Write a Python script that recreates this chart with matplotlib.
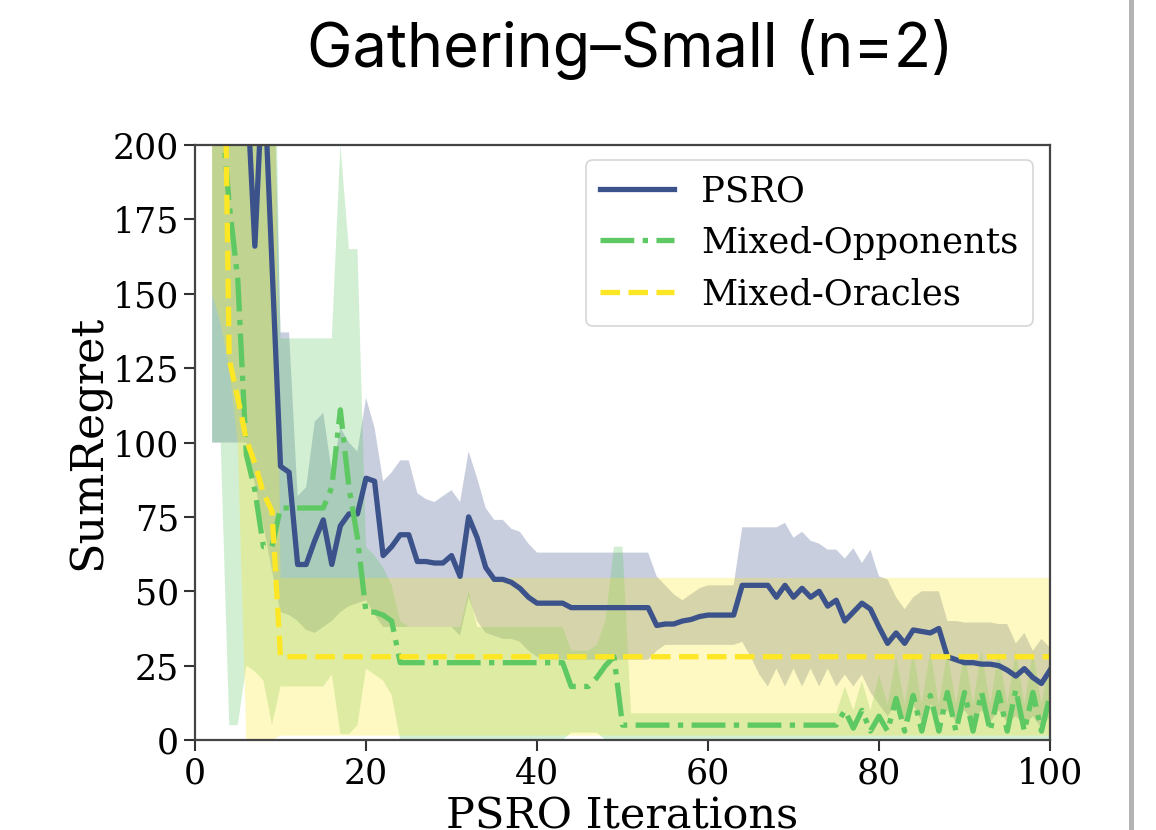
import matplotlib
matplotlib.use("Agg")
import matplotlib.pyplot as plt
from matplotlib.lines import Line2D

# PSRO iterations (x axis)
iterations = list(range(2, 101))

# PSRO: mean SumRegret and shaded band
psro_mean = [420, 380, 330, 270, 223, 166, 228, 160, 92, 90,
             59, 59, 67, 74, 59, 72, 76, 76, 88, 87,
             62, 65, 69, 69, 60, 60, 59.5, 59.5, 62, 55,
             75, 68, 58, 54, 54, 53, 51, 48, 46, 46,
             46, 46, 44.5, 44.5, 44.5, 44.5, 44.5, 44.5, 44.5, 44.5,
             44.5, 44.5, 38.5, 39, 39, 40, 40.5, 41.5, 42, 42,
             42, 42, 52, 52, 52, 52, 48, 52, 48, 51,
             48, 50, 45, 47, 40, 43, 46, 44, 38, 32.5,
             36, 32.5, 37, 36.5, 36, 37.5, 28, 27, 26, 26,
             25.5, 25.5, 25, 23.5, 21.5, 24, 21, 19, 23.5]
psro_upper = [300, 300, 300, 300, 300, 300, 300, 250, 137, 137,
              82, 85, 107, 110, 90, 105, 100, 97, 115, 105,
              87, 90, 94, 94, 83, 81, 80, 82, 84, 80,
              97, 88, 78, 74, 74, 71, 70, 66, 63, 63,
              63, 63, 63, 63, 63, 63, 63, 63, 63, 63,
              63, 63, 55, 52, 49, 47, 49, 51, 52, 52,
              52, 52, 71.5, 71.5, 71.5, 71.5, 71.5, 73, 68, 70,
              67, 66, 64, 64, 61, 64.5, 59.5, 64, 55, 54,
              48, 44, 48, 50, 50, 50, 40, 40, 39.5, 39.5,
              39.5, 39.5, 39, 39, 32.5, 36, 30, 34, 31]
psro_lower = [100, 100, 100, 100, 100, 86, 72, 57, 43, 42,
              40, 37, 36, 38, 40, 43, 45, 46, 47, 42,
              38, 38, 38, 38, 38, 38, 38, 38, 38, 35,
              48, 40, 36, 35, 34, 34, 33, 30, 28, 27,
              27, 27, 27, 27, 27, 27, 27, 27, 27, 27,
              27, 27, 30, 32, 32, 32, 32, 32, 32, 32,
              32, 32, 33, 28, 22, 18, 24, 18, 24, 18,
              24, 18, 24, 18, 22, 18, 22, 16, 12, 8,
              12, 6, 12, 6, 12, 8, 10, 6, 10, 6,
              10, 6, 10, 6, 8, 5, 8, 4, 8]

# Mixed-Opponents
mo_mean = [260, 215, 180, 155, 96, 84, 65, 65, 78, 78,
           78, 78, 78, 78, 85, 111, 85, 68, 43, 43,
           42, 40, 26, 26, 26, 26, 26, 26, 26, 26,
           26, 26, 26, 26, 26, 26, 26, 26, 26, 26,
           26, 26, 18, 18, 18, 21, 25, 28, 5, 5,
           5, 5, 5, 5, 5, 5, 5, 5, 5, 5,
           5, 5, 5, 5, 5, 5, 5, 5, 5, 5,
           5, 5, 5, 5, 10, 4, 10, 3, 8, 3,
           14, 3, 15, 3, 15, 3, 16, 3, 16, 3,
           16, 3, 16, 3, 17, 3, 16, 3, 15]
mo_upper = [300, 300, 300, 300, 300, 300, 300, 300, 135, 135,
            135, 135, 135, 135, 135, 200, 165, 165, 65, 62,
            58, 52, 40, 38, 38, 38, 38, 38, 38, 38,
            50, 38, 38, 38, 38, 38, 38, 38, 38, 38,
            38, 38, 30, 30, 30, 32, 40, 65, 65, 9,
            9, 9, 9, 9, 9, 9, 9, 9, 9, 9,
            9, 9, 9, 9, 9, 9, 9, 9, 9, 9,
            9, 9, 9, 9, 18, 10, 20, 10, 22, 12,
            28, 12, 30, 12, 30, 12, 30, 12, 30, 12,
            30, 12, 30, 12, 30, 12, 30, 12, 28]
mo_lower = [100, 100, 5, 5, 25, 23, 20, 5, 18, 18,
            18, 18, 18, 18, 22, 2, 2, 5, 24, 22,
            20, 15, 0, 0, 0, 0, 0, 0, 0, 0,
            0, 0, 0, 0, 0, 0, 0, 0, 0, 0,
            0, 0, 2.5, 2.5, 2.5, 2.5, 0, 0, 0, 0,
            0, 0, 0, 0, 0, 0, 0, 0, 0, 0,
            0, 0, 0, 0, 0, 0, 0, 0, 0, 0,
            0, 0, 0, 0, 0, 0, 0, 0, 0, 0,
            0, 0, 0, 0, 0, 0, 0, 0, 0, 0,
            0, 0, 0, 0, 0, 0, 0, 0, 0]

# Mixed-Oracles
mor_mean = [400, 330, 128, 115, 101, 93, 83, 77, 28] + [28] * 90
mor_upper = [320] * 8 + [54.5] * 91
mor_lower = [150, 140, 125, 100, 0, 0, 0, 0] + [1.5] * 91

series = [
    ("PSRO", psro_mean, psro_lower, psro_upper, "#3b528b", "-"),
    ("Mixed-Opponents", mo_mean, mo_lower, mo_upper, "#5ec962", "-."),
    ("Mixed-Oracles", mor_mean, mor_lower, mor_upper, "#fde725", "--"),
]

plt.rcParams["font.family"] = "DejaVu Serif"

fig = plt.figure(figsize=(11.56, 8.3), dpi=100)
ax = fig.add_axes([0.1687, 0.1084, 0.7396, 0.7169])

for name, mean, lo, hi, color, ls in series:
    ax.plot(iterations, mean, color=color, linestyle=ls, linewidth=3.8, label=name)
    ax.fill_between(iterations, lo, hi, color=color, alpha=0.28, linewidth=0)

ax.set_xlim(0, 100)
ax.set_ylim(0, 200)
ax.set_xticks([0, 20, 40, 60, 80, 100])
ax.set_yticks([0, 25, 50, 75, 100, 125, 150, 175, 200])
ax.tick_params(labelsize=25, length=8, width=1.5, color="#333333")
for s in ax.spines.values():
    s.set_linewidth(1.6)
    s.set_color("#444444")

ax.set_xlabel("PSRO Iterations", fontsize=31, labelpad=4)
ax.set_ylabel("SumRegret", fontsize=32, labelpad=2)

leg = ax.legend(loc="upper right", fontsize=25.5, handlelength=2.1,
                borderpad=0.4, labelspacing=0.5, handletextpad=0.76,
                borderaxespad=0, bbox_to_anchor=(0.980, 0.975))
leg.get_frame().set_linewidth(1.2)

fig.text(0.545, 0.94, "Gathering\u2013Small (n=2)", fontsize=44,
         family="Inter", ha="center", va="center")

fig.add_artist(Line2D([0.978, 0.978], [0, 1], transform=fig.transFigure,
                      color="#b3b3b3", linewidth=3.6))

fig.savefig("out.png", dpi=100)
